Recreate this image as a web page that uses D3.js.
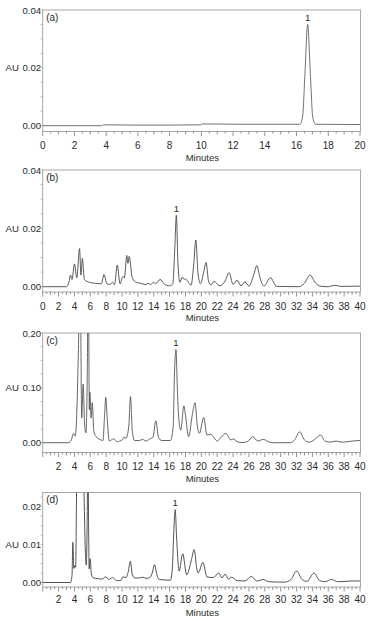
<!DOCTYPE html>
<html><head><meta charset="utf-8">
<script src="https://cdn.jsdelivr.net/npm/d3@7/dist/d3.min.js"></script>
<style>
html,body{margin:0;padding:0;background:#fff;}
svg{display:block;font-family:"Liberation Sans",Arial,sans-serif;}
</style></head>
<body>
<svg id="chart" width="370" height="621"></svg>
<script>
// ---------- DATA (time in minutes, absorbance in AU) ----------
const panelLabels = ["(a)", "(b)", "(c)", "(d)"];
const peakName = "1";
const peakTimes = [16.7, 16.85, 16.8, 16.7];

const seriesA = [[0,0],[3.7,0],[3.85,0.0003],[6,0.0002],[8,0.0002],[9.95,0.0003],[10.05,0.0006],[12.5,0.0005],
  [16.2,0.0005],[16.38,0.003],[16.53,0.018],[16.7,0.035],[16.87,0.018],[17.02,0.003],[17.2,0.0005],[20,0.0004]];

const seriesB = [[0,0],[3.0,0],[3.3,0.0015],[3.5,0.004],[3.7,0.0025],[4.0,0.0078],[4.3,0.003],[4.65,0.0131],[4.82,0.004],
  [5.0,0.0097],[5.25,0.0025],[5.6,0.0018],[6.5,0.0012],[7.4,0.001],[7.73,0.0042],[8.1,0.001],[8.5,0.0008],[8.8,0.0015],
  [9.05,0.0007],[9.4,0.0074],[9.75,0.001],[10.1,0.0035],[10.3,0.003],[10.6,0.0107],[10.75,0.008],[10.9,0.0104],[11.3,0.003],
  [11.8,0.0015],[12.3,0.0012],[13.0,0.0007],[13.3,0.0012],[13.6,0.0008],[14.0,0.0015],[14.2,0.001],[14.4,0.0013],[14.8,0.0025],
  [15.3,0.001],[16.0,0.0003],[16.4,0.001],[16.65,0.013],[16.85,0.0245],[17.05,0.008],[17.3,0.0015],[17.6,0.0033],[17.85,0.0025],
  [18.0,0.0027],[18.3,0.0018],[18.7,0.0005],[19.05,0.008],[19.3,0.016],[19.6,0.004],[19.9,0.001],[20.3,0.005],[20.6,0.0083],
  [20.9,0.002],[21.2,0.0006],[21.6,0.0018],[22.3,0.0003],[23.0,0.002],[23.5,0.0048],[24.0,0.0008],[24.5,0.0022],[25.0,0.0003],
  [25.5,0.0017],[26.0,0.0002],[26.6,0.004],[27.0,0.0072],[27.4,0.003],[27.9,0.0002],[28.7,0.0031],[29.5,0.0001],[32.3,0],
  [33.0,0.0012],[33.7,0.004],[34.4,0.0012],[35.2,0.0001],[36.0,0],[36.8,0.0005],[37.6,0.0001],[40,0.0002]];

const seriesC = [[0,0],[3.3,0],[3.6,0.005],[3.9,0.017],[4.1,0.012],[4.3,0.056],[4.5,0.17],[4.72,0.32],[4.92,0.045],[5.1,0.107],
  [5.3,0.03],[5.45,0.018],[5.6,0.1],[5.75,0.32],[5.88,0.06],[5.95,0.092],[6.1,0.045],[6.25,0.073],[6.45,0.02],[6.8,0.01],
  [7.2,0.006],[7.6,0.004],[7.8,0.05],[7.95,0.083],[8.15,0.04],[8.4,0.003],[8.9,0.007],[9.4,0.002],[10.0,0.005],[10.25,0.01],
  [10.5,0.008],[10.85,0.03],[11.07,0.084],[11.3,0.02],[11.6,0.004],[12.2,0.004],[12.6,0.006],[13.0,0.003],[13.5,0.007],
  [13.9,0.01],[14.26,0.04],[14.6,0.01],[15.0,0.004],[16.1,0.004],[16.45,0.03],[16.6,0.12],[16.8,0.17],[16.97,0.1],[17.1,0.055],
  [17.4,0.023],[17.8,0.067],[18.0,0.05],[18.4,0.011],[18.85,0.05],[19.2,0.073],[19.5,0.03],[19.75,0.017],[20.3,0.046],
  [20.7,0.014],[21.2,0.015],[22.0,0.003],[22.5,0.01],[23.1,0.017],[23.7,0.005],[24.0,0.007],[24.5,0.002],[25.0,0.0],
  [25.8,0.002],[26.5,0.011],[27.1,0.003],[27.8,0.006],[28.6,0.001],[29.0,0],[31.2,0],[31.8,0.006],[32.4,0.020],[33.0,0.005],
  [33.6,0.001],[34.3,0.006],[35.0,0.014],[35.6,0.003],[36.2,0.001],[37.0,0.003],[37.8,0.001],[39.0,0.003],[40,0.004]];

const seriesD = [[0,0],[3.5,0],[3.7,0.002],[3.8,0.0106],[3.92,0.0037],[4.05,0.0045],[4.15,0.004],[4.3,0.03],[4.6,0.06],
  [5.0,0.05],[5.2,0.025],[5.35,0.01],[5.5,0.0046],[5.6,0.015],[5.7,0.035],[5.8,0.012],[5.86,0.0036],[5.97,0.0063],[6.15,0.002],
  [6.4,0.0012],[7.0,0.001],[7.5,0.0009],[7.95,0.0015],[8.3,0.0008],[8.8,0.0013],[9.3,0.0005],[9.9,0.0006],[10.1,0.0015],
  [10.5,0.0013],[10.8,0.003],[11.05,0.0056],[11.3,0.002],[11.6,0.0012],[12.2,0.0012],[12.6,0.0014],[13.0,0.0011],[13.5,0.0013],
  [13.8,0.0025],[14.1,0.0047],[14.4,0.002],[14.7,0.0008],[16.1,0.0006],[16.35,0.004],[16.5,0.012],[16.7,0.0192],[16.9,0.011],
  [17.2,0.003],[17.65,0.0076],[18.15,0.002],[18.75,0.006],[19.1,0.0087],[19.4,0.004],[19.6,0.0025],[20.2,0.0053],[20.7,0.0015],
  [21.5,0.0013],[22.2,0.0025],[22.6,0.0012],[23.0,0.0022],[23.4,0.0009],[23.8,0.0014],[24.5,0.0005],[25.5,0.0004],[26.3,0.0016],
  [27.0,0.0004],[27.8,0.0008],[28.5,0.0002],[30.5,0.0001],[31.3,0.0008],[32.0,0.003],[32.7,0.0008],[33.3,0.0003],[34.2,0.0025],
  [34.9,0.0005],[35.6,0.0002],[36.4,0.0008],[37.2,0.0002],[39,0.0004],[40,0.0004]];

const xTicksA = [0,2,4,6,8,10,12,14,16,18,20];
const xTicksB = [0,2,4,6,8,10,12,14,16,18,20,22,24,26,28,30,32,34,36,38,40];
const xTicksCD = [2,4,6,8,10,12,14,16,18,20,22,24,26,28,30,32,34,36,38,40];
const yTicksAB = [0, 0.02, 0.04];
const yTicksC = [0, 0.10, 0.20];
const yTicksD = [0, 0.01, 0.02];
const xTitle = "Minutes";
const yTitle = "AU";

// ---------- LAYOUT ----------
const svg = d3.select("#chart");
const left = 42.7, right = 360, frameRight = 360.5;
const panels = [
  {label: panelLabels[0], data: seriesA, xMax: 20, xTicks: xTicksA, yTicks: yTicksAB, yTop: 0.04, top: 10, zero: 125.7, axisY: 131.5, tickY: 149, titleY: 160.5, peakT: peakTimes[0], lc: "#606060"},
  {label: panelLabels[1], data: seriesB, xMax: 40, xTicks: xTicksB, yTicks: yTicksAB, yTop: 0.04, top: 170, zero: 286.7, axisY: 292, tickY: 309.5, titleY: 320.5, peakT: peakTimes[1], lc: "#474747"},
  {label: panelLabels[2], data: seriesC, xMax: 40, xTicks: xTicksCD, yTicks: yTicksC, yTop: 0.20, top: 333, zero: 442.7, axisY: 452.5, tickY: 469.5, titleY: 482, peakT: peakTimes[2], lc: "#555555"},
  {label: panelLabels[3], data: seriesD, xMax: 40, xTicks: xTicksCD, yTicks: yTicksD, yTop: 0.02, top: 492.5, zero: 582.5, axisY: 587, tickY: 602.5, titleY: 615.5, peakT: peakTimes[3], yTopPx: 506.7, lc: "#404040"}
];

const frameColor = "#a8a8a8", textColor = "#2a2a2a";

panels.forEach((p, i) => {
  const x = d3.scaleLinear().domain([0, p.xMax]).range([left, right]);
  const topPx = p.yTopPx !== undefined ? p.yTopPx : p.top;
  const y = d3.scaleLinear().domain([0, p.yTop]).range([p.zero, topPx]);
  const g = svg.append("g");

  const cid = "clip" + i;
  svg.append("clipPath").attr("id", cid).append("rect")
    .attr("x", left).attr("y", p.top).attr("width", frameRight - left).attr("height", p.axisY - p.top);

  g.append("rect").attr("x", left).attr("y", p.top).attr("width", frameRight - left).attr("height", p.axisY - p.top)
    .attr("fill", "none").attr("stroke", frameColor).attr("stroke-width", 1);

  const minor = d3.range(0, p.xMax + 0.001, 0.5);
  g.selectAll(".mt").data(minor).join("line")
    .attr("x1", d => x(d)).attr("x2", d => x(d))
    .attr("y1", p.axisY).attr("y2", d => p.axisY + (d % 2 === 0 ? 4.5 : (d % 1 === 0 ? 3 : 2)))
    .attr("stroke", "#777").attr("stroke-width", 0.8);
  g.selectAll(".xl").data(p.xTicks).join("text")
    .attr("x", d => x(d)).attr("y", p.tickY).attr("text-anchor", "middle")
    .attr("font-size", 10).attr("fill", textColor).text(d => d);
  g.append("text").attr("x", (left + right) / 2 + 1).attr("y", p.titleY).attr("text-anchor", "middle")
    .attr("font-size", 9.5).attr("fill", textColor).text(xTitle);

  const step = p.yTicks[1] - p.yTicks[0];
  const yMinor = d3.range(0, y.invert(p.top) + 1e-9, step / 4);
  g.selectAll(".ymt").data(yMinor).join("line")
    .attr("x1", left).attr("x2", left - 2).attr("y1", d => y(d)).attr("y2", d => y(d))
    .attr("stroke", "#999").attr("stroke-width", 0.7);
  g.selectAll(".yl").data(p.yTicks).join("text")
    .attr("x", left - 1.5).attr("y", d => y(d) + 3.5).attr("text-anchor", "end")
    .attr("font-size", 9.6).attr("fill", textColor).text(d => d.toFixed(2));
  g.append("text").attr("x", 5.5).attr("y", y(p.yTicks[1]) + 3.5)
    .attr("font-size", 9.6).attr("fill", textColor).text(yTitle);

  g.append("text").attr("x", left + 3.5).attr("y", p.top + 10.5)
    .attr("font-size", 10).attr("fill", textColor).text(p.label);

  const line = d3.line().x(d => x(d[0])).y(d => y(d[1])).curve(d3.curveMonotoneX);
  g.append("path").datum(p.data).attr("d", line).attr("clip-path", `url(#${cid})`)
    .attr("fill", "none").attr("stroke", p.lc).attr("stroke-width", 0.9);

  const pk = d3.least(p.data, d => Math.abs(d[0] - p.peakT));
  g.append("text").attr("x", x(pk[0])).attr("y", y(pk[1]) - 3.5).attr("text-anchor", "middle")
    .attr("font-size", 9.5).attr("fill", textColor).text(peakName);
});
</script>
</body></html>
